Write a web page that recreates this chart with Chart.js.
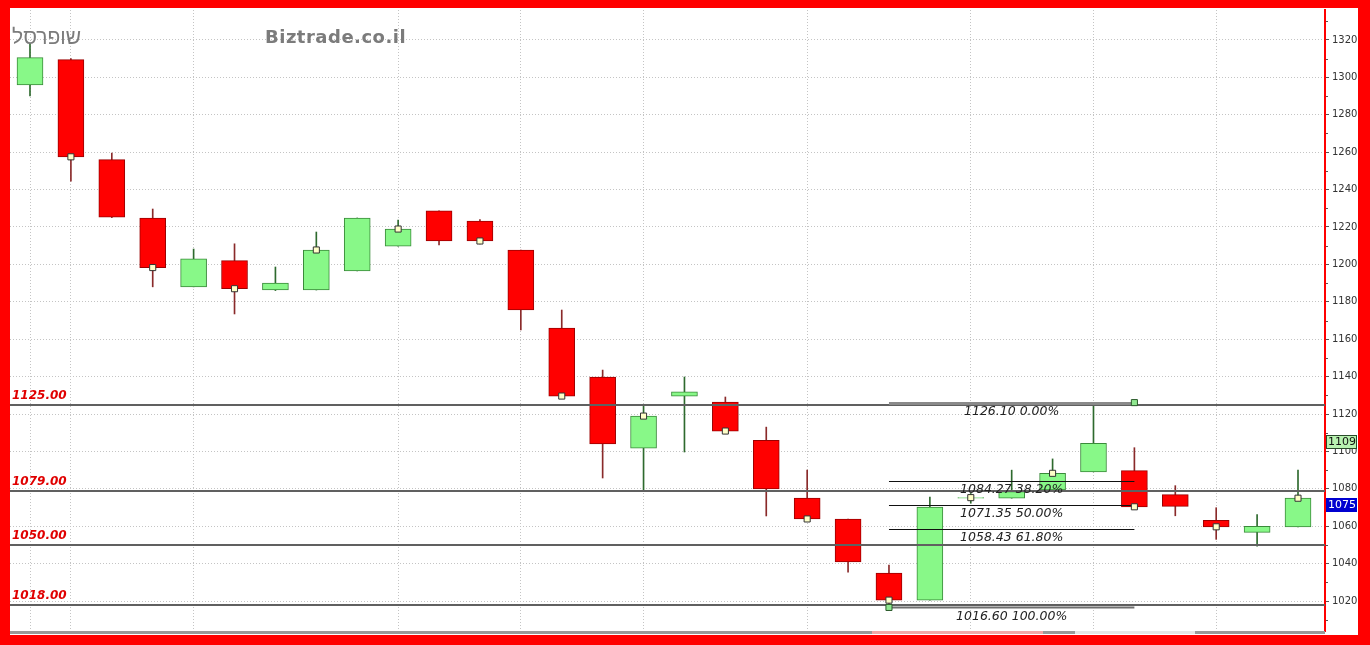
<!DOCTYPE html>
<html>
<head>
<meta charset="utf-8">
<script src="https://cdn.jsdelivr.net/npm/chart.js@4.4.1/dist/chart.umd.min.js"></script>
<style>
html, body { margin: 0; padding: 0; width: 1370px; height: 645px; overflow: hidden; background: #ff0000; }
#frame { position: absolute; left: 10px; top: 8px; width: 1348px; height: 627px; background: #fff; }
.title { position: absolute; top: 27px; font: bold 18px "DejaVu Sans", sans-serif; color: #7b7b7b; line-height: 20px; }
</style>
</head>
<body>
<div id="frame"><canvas id="chart"></canvas></div>
<div class="title" style="left:12px;top:27px;font-weight:normal;font-family:'Liberation Sans',sans-serif;font-size:21px" dir="rtl">שופרסל</div>
<div class="title" style="left:265px;letter-spacing:0.5px">Biztrade.co.il</div>
<script>
// daily candles, oldest first
const opens  = [1296, 1309.5, 1256, 1224.8, 1188, 1202, 1186.3, 1186.3, 1196.5, 1209.8, 1228.6, 1223.2, 1207.7, 1166, 1139.8, 1101.8,
                1129.6, 1126.4, 1106, 1075.1, 1063.9, 1035, 1020.5, 1075, 1075, 1079.4, 1089.1, 1089.7, 1076.9, 1063.2, 1056.7, 1059.7];
const highs  = [1318, 1310, 1259.5, 1229.6, 1208.2, 1211, 1198.6, 1217.3, 1224.8, 1223.7, 1228.6, 1224, 1207.7, 1175.6, 1143.5, 1124.8,
                1139.8, 1129.1, 1113, 1090, 1063.9, 1039.3, 1075.6, 1077.5, 1090, 1096, 1126.1, 1102, 1081.7, 1069.9, 1066.2, 1090];
const lows   = [1290, 1244.5, 1225, 1188, 1188, 1173.5, 1186, 1186.3, 1196.5, 1209.8, 1210.4, 1211, 1164.9, 1129.6, 1085.8, 1079.4,
                1099.7, 1110.9, 1065.5, 1063.9, 1035.5, 1016.6, 1020.5, 1072.3, 1075, 1079.4, 1089.1, 1070.4, 1065.6, 1053, 1049.4, 1059.7];
const closes = [1310.5, 1257.5, 1225.3, 1198.3, 1203, 1187, 1190, 1207.7, 1224.8, 1218.9, 1212.5, 1212.5, 1175.6, 1129.6, 1104, 1118.9,
                1131.8, 1110.9, 1079.9, 1063.9, 1040.9, 1020.5, 1070.3, 1075.3, 1078.5, 1088.3, 1104.3, 1070.4, 1070.6, 1059.7, 1060, 1075];

const supportLevels = [1125, 1079, 1050, 1018];
const fibLevels = [1126.10, 1084.27, 1071.35, 1058.43, 1016.60];
const fibRatios = ['0.00%', '38.20%', '50.00%', '61.80%', '100.00%'];
const fibStart = 21, fibEnd = 27;
const yTicks = [1020, 1040, 1060, 1080, 1100, 1120, 1140, 1160, 1180, 1200, 1220, 1240, 1260, 1280, 1300, 1320];
const gridDays = [0, 1, 4, 9, 12, 15, 19, 23, 26, 29];
const axisTags = [1109, 1075];

const isUp = i => closes[i] >= opens[i];
const bodies = opens.map((o, i) => ({ x: i, y: [o, closes[i]] }));
const wicks = lows.map((l, i) => ({ x: i, y: [l, highs[i]] }));
const closeMarks = closes.map((c, i) => ({ x: i, y: c })).filter(p => p.x % 2 === 1);
const fibEnds = [{ x: fibStart, y: fibLevels[4] }, { x: fibEnd, y: fibLevels[0] }];

const overlay = {
    id: 'overlay',
    afterDatasetDraw(chart, args) {
        if (args.index !== 2) return; // after candle bodies
        const { ctx, chartArea: a, scales: { x, y } } = chart;
        ctx.save();
        ctx.beginPath();
        ctx.rect(a.left, a.top, a.width, a.height);
        ctx.clip();
        supportLevels.forEach(v => {
            const py = Math.round(y.getPixelForValue(v));
            ctx.strokeStyle = '#606060';
            ctx.lineWidth = 2;
            ctx.beginPath();
            ctx.moveTo(a.left, py);
            ctx.lineTo(a.right, py);
            ctx.stroke();
        });
        const x1 = x.getPixelForValue(fibStart), x2 = x.getPixelForValue(fibEnd);
        fibLevels.forEach((v, i) => {
            const py = Math.round(y.getPixelForValue(v)) + 0.5;
            if (i === 0) { ctx.strokeStyle = '#8a8a8a'; ctx.lineWidth = 3; }
            else if (i === fibLevels.length - 1) { ctx.strokeStyle = '#707070'; ctx.lineWidth = 2; }
            else { ctx.strokeStyle = '#111'; ctx.lineWidth = 1; }
            ctx.beginPath();
            ctx.moveTo(x1, py);
            ctx.lineTo(x2, py);
            ctx.stroke();
        });
        ctx.restore();
    },
    afterDatasetsDraw(chart) {
        const { ctx, chartArea: a, scales: { x, y } } = chart;
        ctx.save();
        ctx.textBaseline = 'middle';
        ctx.font = 'italic bold 12px "DejaVu Sans"';
        ctx.fillStyle = '#e00000';
        ctx.textAlign = 'left';
        supportLevels.forEach(v => {
            ctx.fillText(v.toFixed(2), a.left + 2, y.getPixelForValue(v) - 9);
        });
        ctx.font = 'italic 12.5px "DejaVu Sans"';
        ctx.fillStyle = '#222';
        ctx.textAlign = 'center';
        const cx = (x.getPixelForValue(fibStart) + x.getPixelForValue(fibEnd)) / 2;
        fibLevels.forEach((v, i) => {
            ctx.fillText(v.toFixed(2) + ' ' + fibRatios[i], cx, y.getPixelForValue(v) + 9);
        });
        ctx.restore();
    },
    afterDraw(chart) {
        const { ctx, chartArea: a, scales: { y } } = chart;
        ctx.save();
        // minor ticks
        ctx.strokeStyle = '#555';
        ctx.lineWidth = 1;
        for (let v = 1010; v <= 1330; v += 20) {
            const py = Math.round(y.getPixelForValue(v)) + 0.5;
            ctx.beginPath();
            ctx.moveTo(a.right + 1, py);
            ctx.lineTo(a.right + 3, py);
            ctx.stroke();
        }
        // price tags on the axis
        ctx.font = '11px "DejaVu Sans"';
        ctx.textBaseline = 'middle';
        ctx.textAlign = 'left';
        axisTags.forEach((v, i) => {
            const top = Math.round(y.getPixelForValue(v));
            const bx = a.right + 1, bw = chart.width - a.right - 2;
            ctx.fillStyle = i === 0 ? '#b8f2b0' : '#0000d0';
            ctx.fillRect(bx, top, bw, 14);
            if (i === 0) {
                ctx.strokeStyle = '#2a4a2a';
                ctx.strokeRect(bx + 0.5, top + 0.5, bw - 1, 13);
            }
            ctx.fillStyle = i === 0 ? '#111' : '#fff';
            ctx.fillText(String(v), bx + 2, top + 7);
        });
        // scroll band at the bottom
        ctx.fillStyle = '#9a9a9a';
        ctx.fillRect(a.left, a.bottom, a.width, 3);
        ctx.fillStyle = '#f2a8a8';
        ctx.fillRect(862, a.bottom, 171, 3);
        ctx.fillStyle = '#e6e6e6';
        ctx.fillRect(1065, a.bottom, 120, 3);
        ctx.restore();
    }
};

const ctx = document.getElementById('chart').getContext('2d');
const chart = new Chart(ctx, {
    type: 'bar',
    data: {
        datasets: [{
            type: 'scatter',
            data: closeMarks,
            pointStyle: 'rect',
            pointRadius: 4.3,
            backgroundColor: '#ffffc8',
            borderColor: '#333',
            borderWidth: 1,
            order: 0
        }, {
            type: 'scatter',
            data: fibEnds,
            pointStyle: 'rect',
            pointRadius: 4.3,
            backgroundColor: '#90e890',
            borderColor: '#2a5a2a',
            borderWidth: 1,
            order: 0
        }, {
            data: bodies,
            backgroundColor: bodies.map((b, i) => isUp(i) ? '#88f888' : '#ff0000'),
            borderColor: bodies.map((b, i) => isUp(i) ? '#3a8a3a' : '#9a0000'),
            borderWidth: 1,
            borderSkipped: false,
            barThickness: 26,
            grouped: false,
            order: 1
        }, {
            data: wicks,
            backgroundColor: wicks.map((w, i) => isUp(i) ? '#2e6a2e' : '#8a2a2a'),
            barThickness: 1,
            grouped: false,
            order: 2
        }]
    },
    options: {
        responsive: true,
        maintainAspectRatio: false,
        animation: false,
        devicePixelRatio: 1,
        layout: { autoPadding: false, padding: { top: 2, bottom: 4, left: 0, right: 0 } },
        plugins: { legend: { display: false }, tooltip: { enabled: false } },
        scales: {
            x: {
                type: 'linear',
                offset: false,
                min: -0.489,
                max: 31.66,
                afterBuildTicks: s => { s.ticks = gridDays.map(v => ({ value: v })); },
                afterFit: s => { s.height = 0; s.paddingLeft = 0; s.paddingRight = 0; },
                ticks: { display: false },
                grid: { color: '#c4c4c4', drawTicks: false, offset: false },
                border: { display: false, dash: [1, 2] }
            },
            y: {
                position: 'right',
                min: 1004,
                max: 1336,
                afterBuildTicks: s => { s.ticks = yTicks.map(v => ({ value: v })); },
                afterFit: s => { s.width = 33; s.paddingTop = 0; s.paddingBottom = 0; },
                ticks: { font: { family: 'DejaVu Sans', size: 10 }, color: '#333', padding: 3, callback: v => String(v) },
                grid: { color: '#c4c4c4', tickColor: '#555', tickLength: 4, tickBorderDash: [] },
                border: { color: '#ff0000', width: 2, dash: [1, 2] }
            }
        }
    },
    plugins: [overlay]
});
</script>
</body>
</html>
